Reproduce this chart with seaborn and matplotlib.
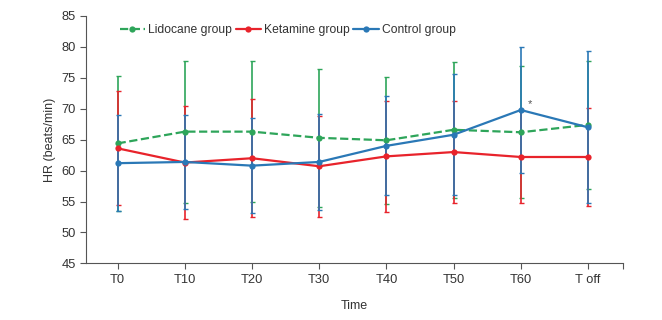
import numpy as np
import pandas as pd
import matplotlib
matplotlib.use('Agg')
import matplotlib.pyplot as plt
import seaborn as sns

# time points and group data (mean, SD)
times = ['T0', 'T10', 'T20', 'T30', 'T40', 'T50', 'T60', 'T off']

lido_mean = [64.4, 66.3, 66.3, 65.3, 64.9, 66.6, 66.2, 67.4]
lido_sd = [10.9, 11.5, 11.4, 11.2, 10.3, 11.0, 10.7, 10.3]

keta_mean = [63.6, 61.3, 62.0, 60.7, 62.3, 63.0, 62.2, 62.2]
keta_sd = [9.2, 9.1, 9.5, 8.2, 9.0, 8.3, 7.5, 8.0]

ctrl_mean = [61.2, 61.4, 60.8, 61.4, 64.0, 65.8, 69.8, 67.0]
ctrl_sd = [7.8, 7.6, 7.7, 7.7, 8.0, 9.8, 10.2, 12.3]

groups = ['Lidocane group', 'Ketamine group', 'Control group']
colors = ['#2ea55a', '#e8232b', '#2a78b6']
styles = ['--', '-', '-']

sns.set_style('ticks')
plt.rcParams['font.family'] = ['Liberation Sans', 'DejaVu Sans']
plt.rcParams['text.color'] = '#333333'
plt.rcParams['axes.labelcolor'] = '#333333'
plt.rcParams['xtick.color'] = '#555555'
plt.rcParams['ytick.color'] = '#555555'
plt.rcParams['xtick.labelcolor'] = '#333333'
plt.rcParams['ytick.labelcolor'] = '#333333'

fig = plt.figure(figsize=(6.62, 3.2), dpi=100)
ax = fig.add_axes([0.13, 0.177, 0.811, 0.773])

means = [lido_mean, keta_mean, ctrl_mean]
sds = [lido_sd, keta_sd, ctrl_sd]

# error bars under the lines
for m, s, c in zip(means, sds, colors):
    ax.errorbar(np.arange(len(times)), m, yerr=s, fmt='none', ecolor=c,
                elinewidth=1.2, capsize=1.8, capthick=1.0, zorder=2)

for name, m, c, ls in zip(groups, means, colors, styles):
    d = pd.DataFrame({'time': np.arange(len(times)), 'HR': m})
    sns.lineplot(data=d, x='time', y='HR', color=c, linestyle=ls, marker='o',
                 markersize=4.5, markeredgewidth=0, linewidth=1.6,
                 label=name, ax=ax, zorder=3)

# asterisk over the control peak
i60 = times.index('T60')
ax.annotate('*', xy=(i60, ctrl_mean[i60]), xytext=(5, 2), textcoords='offset points',
            fontsize=8, color='#555555')

ax.set_xticks(np.arange(len(times)))
ax.set_xticklabels(times)
ax.set_xlim(-0.47, len(times) - 1 + 0.52)
ax.set_xticks([len(times) - 1 + 0.52], minor=True)
ax.set_ylim(45, 85)
ax.set_yticks(np.arange(45, 86, 5))

ax.tick_params(axis='both', labelsize=9.3, length=4, width=0.8)
ax.tick_params(axis='x', which='minor', length=4, width=0.8)
ax.set_xlabel('Time', fontsize=9, labelpad=10)
ax.set_ylabel('HR (beats/min)', fontsize=9, labelpad=4)

for sp in ['top', 'right']:
    ax.spines[sp].set_visible(False)
for sp in ['left', 'bottom']:
    ax.spines[sp].set_color('#555555')
    ax.spines[sp].set_linewidth(0.8)

ax.legend(loc='upper left', bbox_to_anchor=(0.048, 1.0), ncol=3, frameon=False,
          fontsize=8.7, handlelength=2.1, handletextpad=0.25, columnspacing=0.3,
          borderaxespad=0.25)

fig.savefig('out.png', dpi=100)
